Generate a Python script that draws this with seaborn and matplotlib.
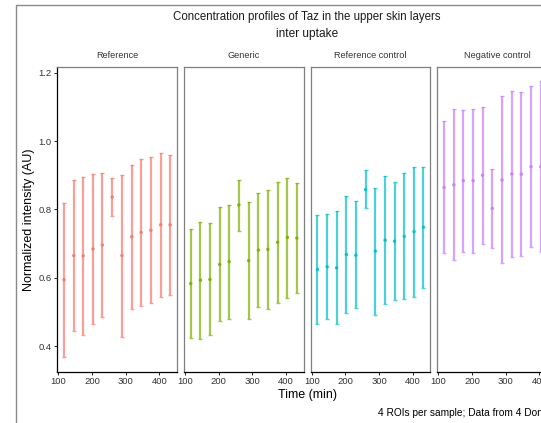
import numpy as np
import pandas as pd
import matplotlib
matplotlib.use("Agg")
import matplotlib.pyplot as plt
from matplotlib.lines import Line2D
import seaborn as sns

# values
times = [117, 146, 174, 203, 231, 260, 289, 318, 346, 375, 404, 432]
groups = ["Reference", "Generic", "Reference control", "Negative control"]
colors = ["#F8766D", "#7CAE00", "#00BFC4", "#C77CFF"]

ref_mean = [0.594, 0.665, 0.664, 0.684, 0.696, 0.836, 0.665, 0.720, 0.733, 0.739, 0.755, 0.755]
ref_lo = [0.367, 0.444, 0.433, 0.464, 0.485, 0.781, 0.428, 0.508, 0.517, 0.526, 0.545, 0.550]
ref_hi = [0.820, 0.887, 0.895, 0.903, 0.906, 0.892, 0.900, 0.931, 0.948, 0.953, 0.965, 0.960]

gen_mean = [0.583, 0.593, 0.595, 0.639, 0.647, 0.813, 0.650, 0.681, 0.683, 0.704, 0.718, 0.716]
gen_lo = [0.423, 0.420, 0.431, 0.472, 0.480, 0.737, 0.480, 0.514, 0.508, 0.526, 0.542, 0.555]
gen_hi = [0.743, 0.764, 0.759, 0.808, 0.813, 0.887, 0.822, 0.848, 0.857, 0.881, 0.893, 0.878]

rc_mean = [0.624, 0.632, 0.629, 0.668, 0.666, 0.858, 0.678, 0.710, 0.707, 0.721, 0.735, 0.748]
rc_lo = [0.464, 0.479, 0.464, 0.496, 0.511, 0.805, 0.492, 0.523, 0.534, 0.537, 0.544, 0.571]
rc_hi = [0.784, 0.787, 0.794, 0.840, 0.824, 0.914, 0.862, 0.898, 0.881, 0.906, 0.925, 0.923]

neg_mean = [0.864, 0.872, 0.884, 0.884, 0.900, 0.803, 0.886, 0.904, 0.903, 0.925, 0.925, 0.930]
neg_lo = [0.672, 0.653, 0.676, 0.672, 0.700, 0.687, 0.642, 0.660, 0.664, 0.690, 0.675, 0.680]
neg_hi = [1.059, 1.093, 1.091, 1.095, 1.100, 0.919, 1.131, 1.148, 1.143, 1.161, 1.177, 1.180]

frames = []
for g, m, lo, hi in zip(groups,
                        [ref_mean, gen_mean, rc_mean, neg_mean],
                        [ref_lo, gen_lo, rc_lo, neg_lo],
                        [ref_hi, gen_hi, rc_hi, neg_hi]):
    frames.append(pd.DataFrame({"group": g, "time": times, "mean": m, "lo": lo, "hi": hi}))
df = pd.concat(frames, ignore_index=True)

sns.set_theme(style="white")
plt.rcParams["font.family"] = ["Liberation Sans", "DejaVu Sans"]

W, H = 541, 423
fig = plt.figure(figsize=(W / 100, H / 100), dpi=100)

left0, pitch, pw = 57.3, 126.7, 119.7
top, bottom = 67.3, 371.7

for i, g in enumerate(groups):
    ax = fig.add_axes([(left0 + i * pitch) / W, (H - bottom) / H, pw / W, (bottom - top) / H])
    sub = df[df["group"] == g]
    ax.errorbar(sub["time"], sub["mean"],
                yerr=[sub["mean"] - sub["lo"], sub["hi"] - sub["mean"]],
                fmt="none", ecolor=colors[i], elinewidth=1.6, capsize=1.2,
                capthick=1.0, alpha=0.7)
    sns.scatterplot(data=sub, x="time", y="mean", ax=ax, color=colors[i],
                    s=6, edgecolor="none", alpha=0.9, legend=False)
    ax.set_xlim(97, 452.5)
    ax.set_ylim(0.325, 1.216)
    ax.set_xticks([100, 200, 300, 400])
    ax.set_yticks([0.4, 0.6, 0.8, 1.0, 1.2])
    ax.set_xlabel("")
    ax.set_ylabel("")
    for side in ["top", "right", "left"]:
        ax.spines[side].set_color("#7f7f7f")
        ax.spines[side].set_linewidth(0.9)
    ax.spines["bottom"].set_color("black")
    ax.spines["bottom"].set_linewidth(0.9)
    ax.tick_params(axis="x", length=2.5, width=0.6, color="black", labelsize=6.8,
                   labelcolor="#333333", pad=1.5, direction="out", bottom=True)
    if i == 0:
        ax.spines["left"].set_color("black")
        ax.tick_params(axis="y", length=2.5, width=0.6, color="black", labelsize=6.8,
                       labelcolor="#333333", pad=1.5, direction="out", left=True)
        ax.set_yticklabels(["0.4", "0.6", "0.8", "1.0", "1.2"])
    else:
        ax.tick_params(axis="y", left=False, labelleft=False)
    ax.text(0.5, 1.025, g, transform=ax.transAxes, ha="center", va="bottom",
            fontsize=6.6, color="#333333")

cx = (left0 + 3 * pitch + pw + left0) / 2 / W
fig.text(cx, 1 - 17 / H, "Concentration profiles of Taz in the upper skin layers",
         ha="center", va="center", fontsize=8.3, color="#1a1a1a")
fig.text(cx, 1 - 34 / H, "inter uptake", ha="center", va="center",
         fontsize=8.6, color="#1a1a1a")
fig.text(cx, 1 - 395 / H, "Time (min)", ha="center", va="center",
         fontsize=9, color="black")
fig.text(29 / W, 1 - 220 / H, "Normalized intensity (AU)", ha="center", va="center",
         rotation=90, fontsize=9, color="black")
fig.text((left0 + 3 * pitch + pw) / W, 1 - 413 / H,
         "4 ROIs per sample; Data from 4 Donors", ha="right", va="center",
         fontsize=7.3, color="black")

# screenshot frame
fig.add_artist(Line2D([16 / W, 16 / W], [0, 1 - 5 / H], transform=fig.transFigure,
                      color="#8a8a8a", lw=1.0))
fig.add_artist(Line2D([16 / W, 1], [1 - 5 / H, 1 - 5 / H], transform=fig.transFigure,
                      color="#8a8a8a", lw=1.0))

fig.savefig("out.png", dpi=100)
